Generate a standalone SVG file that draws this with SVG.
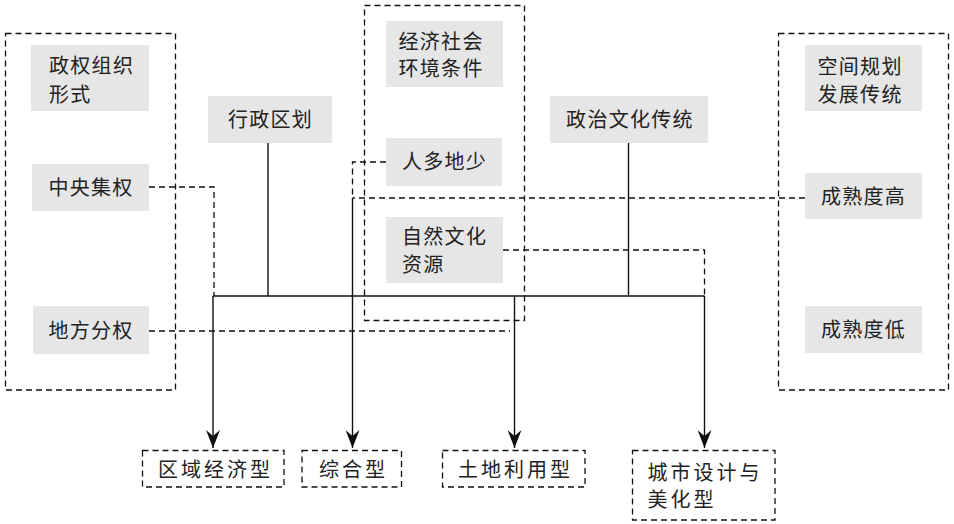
<svg xmlns="http://www.w3.org/2000/svg" width="954" height="524" viewBox="0 0 954 524">
<defs>
<style>
.grp{fill:none;stroke:#111;stroke-width:1.3;stroke-dasharray:6,4}
.nd{fill:#e6e6e6;stroke:none}
.out{fill:#fff;stroke:#111;stroke-width:1.3;stroke-dasharray:6,4}
.t{font-family:"Noto Sans CJK SC","Noto Sans",sans-serif;font-size:20px;fill:#222;letter-spacing:1.3px}
.tb{font-family:"Noto Sans CJK SC","Noto Sans",sans-serif;font-size:20px;fill:#222;letter-spacing:3px}
.c{text-anchor:middle}
.sl{fill:none;stroke:#111;stroke-width:1.4}
.dl{fill:none;stroke:#111;stroke-width:1.3;stroke-dasharray:6,4}
</style>
<marker id="ah" viewBox="0 0 18 14" refX="18" refY="7" markerWidth="18" markerHeight="14" markerUnits="userSpaceOnUse" orient="auto">
<path d="M0,0 L18,7 L0,14 L6,7 Z" fill="#111"/>
</marker>
</defs>
<rect width="954" height="524" fill="#fff"/>

<g id="group-left"><rect class="grp" x="5.5" y="33.5" width="170" height="356.5"/></g>
<g id="group-mid"><rect class="grp" x="364.5" y="5.5" width="160" height="315"/></g>
<g id="group-right"><rect class="grp" x="778.5" y="33.5" width="170" height="356.5"/></g>

<g id="connectors">
<path class="sl" d="M268,143 V296"/>
<path class="sl" d="M628.5,143 V296"/>
<path class="sl" d="M213,296 H704.5"/>
<path class="sl" d="M213,296 V448" marker-end="url(#ah)"/>
<path class="sl" d="M352.5,198 V448" marker-end="url(#ah)"/>
<path class="sl" d="M514.5,296 V448" marker-end="url(#ah)"/>
<path class="sl" d="M704.5,296 V448" marker-end="url(#ah)"/>
<path class="dl" d="M149,187 H214 V296"/>
<path class="dl" d="M149,331 H510"/>
<path class="dl" d="M386,162 H352.5 V198"/>
<path class="dl" d="M805,198 H352.5"/>
<path class="dl" d="M503,250 H704.5 V296"/>
</g>

<g id="n-zqzz"><rect class="nd" x="31" y="45" width="118" height="66"/>
<text class="t" x="49" y="73">政权组织</text><text class="t" x="49" y="101.5">形式</text></g>
<g id="n-zyjq"><rect class="nd" x="32" y="164" width="117" height="47"/>
<text class="t c" x="91" y="195">中央集权</text></g>
<g id="n-dffq"><rect class="nd" x="33" y="306" width="116" height="48"/>
<text class="t c" x="91" y="337.5">地方分权</text></g>
<g id="n-xzqh"><rect class="nd" x="208" y="96" width="124" height="47"/>
<text class="t c" x="270.5" y="127">行政区划</text></g>
<g id="n-jjsh"><rect class="nd" x="386" y="21" width="117" height="66"/>
<text class="t" x="398.5" y="48.5">经济社会</text><text class="t" x="398.5" y="76">环境条件</text></g>
<g id="n-rddd"><rect class="nd" x="386" y="138" width="116" height="48"/>
<text class="t c" x="444.5" y="169">人多地少</text></g>
<g id="n-zrwh"><rect class="nd" x="386" y="217" width="117" height="66"/>
<text class="t" x="402" y="243.5">自然文化</text><text class="t" x="402" y="271.5">资源</text></g>
<g id="n-zzwh"><rect class="nd" x="550" y="96" width="158" height="47"/>
<text class="t c" x="630" y="127">政治文化传统</text></g>
<g id="n-kjgh"><rect class="nd" x="805" y="45" width="117" height="66"/>
<text class="t" x="817.5" y="73.5">空间规划</text><text class="t" x="817.5" y="101.5">发展传统</text></g>
<g id="n-csdg"><rect class="nd" x="805" y="173" width="117" height="46"/>
<text class="t c" x="863.5" y="204">成熟度高</text></g>
<g id="n-csdd"><rect class="nd" x="805" y="306" width="117" height="47"/>
<text class="t c" x="863.5" y="337">成熟度低</text></g>

<g id="n-qyjj"><rect class="out" x="142.5" y="450.5" width="141.5" height="36.5"/>
<text class="tb c" x="215.5" y="476.5">区域经济型</text></g>
<g id="n-zhx"><rect class="out" x="302" y="450.5" width="99.5" height="36.5"/>
<text class="tb c" x="353.5" y="476.5">综合型</text></g>
<g id="n-tdly"><rect class="out" x="442.5" y="450.5" width="142.5" height="36.5"/>
<text class="tb c" x="515.5" y="476.5">土地利用型</text></g>
<g id="n-cssj"><rect class="out" x="632.5" y="450.5" width="142.5" height="69.5"/>
<text class="tb" x="647.5" y="479.5">城市设计与</text><text class="tb" x="647.5" y="507">美化型</text></g>
</svg>
